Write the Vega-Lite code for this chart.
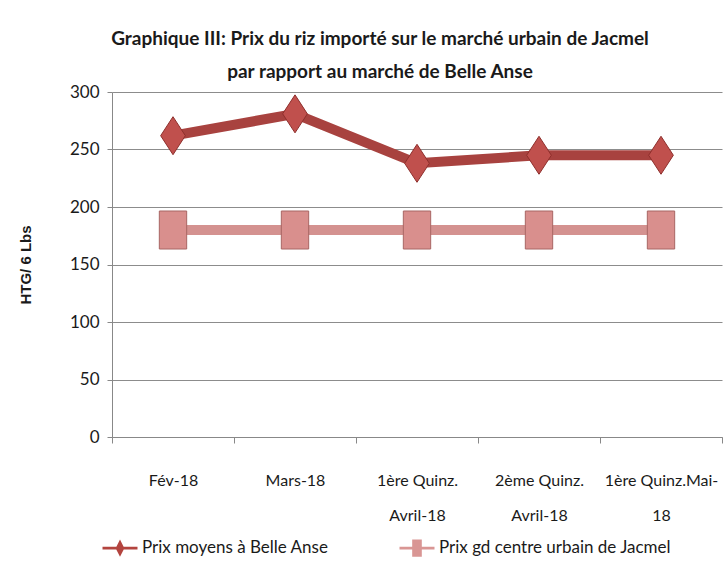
{
  "$schema": "https://vega.github.io/schema/vega-lite/v6.json",
  "width": 610,
  "height": 345,
  "autosize": {"type": "none"},
  "padding": {"left": 112, "top": 92, "right": 4, "bottom": 145},
  "background": "white",
  "title": {
    "text": ["Graphique III: Prix du riz importé sur le marché urbain de Jacmel", "par rapport au marché de Belle Anse"],
    "font": "Lato",
    "fontSize": 19,
    "fontWeight": "bold",
    "color": "#1a1a1a",
    "lineHeight": 33,
    "anchor": "middle",
    "frame": "group",
    "dx": -37,
    "offset": 1
  },
  "data": {
    "values": [
      {"periode": "Fév-18", "serie": "Prix moyens à Belle Anse", "prix": 262},
      {"periode": "Mars-18", "serie": "Prix moyens à Belle Anse", "prix": 281},
      {"periode": "1ère Quinz.\nAvril-18", "serie": "Prix moyens à Belle Anse", "prix": 238},
      {"periode": "2ème Quinz.\nAvril-18", "serie": "Prix moyens à Belle Anse", "prix": 245},
      {"periode": "1ère Quinz.Mai-\n18", "serie": "Prix moyens à Belle Anse", "prix": 245},
      {"periode": "Fév-18", "serie": "Prix gd centre urbain de Jacmel", "prix": 180},
      {"periode": "Mars-18", "serie": "Prix gd centre urbain de Jacmel", "prix": 180},
      {"periode": "1ère Quinz.\nAvril-18", "serie": "Prix gd centre urbain de Jacmel", "prix": 180},
      {"periode": "2ème Quinz.\nAvril-18", "serie": "Prix gd centre urbain de Jacmel", "prix": 180},
      {"periode": "1ère Quinz.Mai-\n18", "serie": "Prix gd centre urbain de Jacmel", "prix": 180}
    ]
  },
  "encoding": {
    "x": {
      "field": "periode",
      "type": "nominal",
      "sort": null,
      "scale": {"type": "band", "paddingInner": 0, "paddingOuter": 0},
      "axis": {
        "title": null,
        "labelAngle": 0,
        "labelExpr": "isValid(datum.value) ? split(datum.value, '\\n') : ''",
        "labelFont": "Lato",
        "labelFontSize": 16,
        "labelColor": "#1a1a1a",
        "labelLineHeight": 35,
        "labelPadding": 37,
        "labelBaseline": "middle",
        "tickBand": "extent",
        "tickColor": "#888888",
        "tickSize": 6,
        "domainColor": "#888888",
        "grid": false
      }
    },
    "y": {
      "field": "prix",
      "type": "quantitative",
      "scale": {"domain": [0, 300], "nice": false},
      "axis": {
        "title": "HTG/ 6 Lbs",
        "titleFont": "Liberation Sans",
        "titleFontSize": 15,
        "titleFontWeight": "bold",
        "titleColor": "#1a1a1a",
        "titlePadding": 36,
        "values": [0, 50, 100, 150, 200, 250, 300],
        "labelFont": "Lato",
        "labelFontSize": 17,
        "labelColor": "#1a1a1a",
        "labelPadding": 8,
        "tickColor": "#888888",
        "tickSize": 5,
        "domainColor": "#888888",
        "gridColor": "#8c8c8c",
        "gridWidth": 1
      }
    }
  },
  "layer": [
    {
      "mark": {"type": "line", "strokeWidth": 10},
      "encoding": {
        "color": {
          "field": "serie",
          "type": "nominal",
          "scale": {"domain": ["Prix moyens à Belle Anse", "Prix gd centre urbain de Jacmel"], "range": ["#A8423F", "#D49290"]},
          "legend": {
            "title": null, "orient": "none", "legendX": -1, "legendY": 447, "direction": "horizontal",
            "encode": {"symbols": {"update": {
              "shape": {"signal": "datum.value == 'Prix moyens à Belle Anse' ? 'M-2,-0.16L2,-0.16L2,0.16L-2,0.16Z M0,-1L0.5,0L0,1L-0.5,0Z' : 'M-2,-0.16L2,-0.16L2,0.16L-2,0.16Z M-0.55,-1L0.55,-1L0.55,1L-0.55,1Z'"},
              "fill": {"signal": "datum.value == 'Prix moyens à Belle Anse' ? '#B3443F' : '#D99694'"},
              "strokeWidth": {"value": 0},
              "opacity": {"value": 1},
              "fillOpacity": {"value": 1}
            }}}
          }
        }
      }
    },
    {
      "mark": {"type": "point", "filled": true, "size": 1444, "opacity": 1, "strokeWidth": 1},
      "encoding": {
        "shape": {
          "field": "serie",
          "type": "nominal",
          "scale": {"range": ["M-0.72,-1L0.72,-1L0.72,1L-0.72,1Z", "M0,-1L0.65,0L0,1L-0.65,0Z"]},
          "legend": null
        },
        "fill": {
          "field": "serie",
          "type": "nominal",
          "scale": {"range": ["#D98F8D", "#C0504D"]},
          "legend": null
        },
        "stroke": {
          "field": "serie",
          "type": "nominal",
          "scale": {"range": ["#A86664", "#8E2F2C"]},
          "legend": null
        }
      }
    }
  ],
  "config": {
    "view": {"stroke": null},
    "legend": {
      "labelFont": "Lato",
      "labelFontSize": 17,
      "labelColor": "#1a1a1a",
      "labelLimit": 0,
      "symbolSize": 306,
      "labelOffset": 13,
      "columnPadding": 70
    }
  }
}
